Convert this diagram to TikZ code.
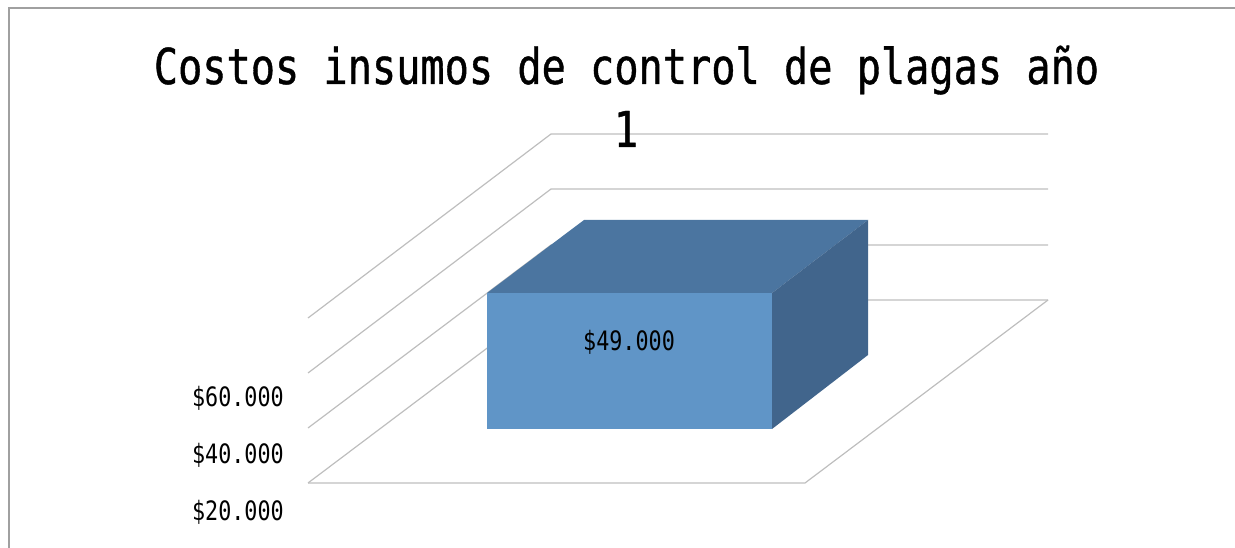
\documentclass[tikz,border=0pt]{standalone}
\usepackage{fontspec}
\newfontfamily\gothic[FakeStretch=0.815]{DejaVu Sans Mono}
\newfontfamily\gothictitle[FakeStretch=0.815,FakeBold=0.8]{DejaVu Sans Mono}
\definecolor{gridc}{RGB}{190,190,190}
\definecolor{framec}{RGB}{160,160,160}
\definecolor{frontc}{RGB}{96,149,199}
\definecolor{topc}{RGB}{75,117,160}
\definecolor{sidec}{RGB}{65,101,140}
\tikzset{
  grid line/.style={draw=gridc, line width=1.2pt},
  frame line/.style={draw=framec, line width=2pt},
  axis label/.style={font=\gothic\fontsize{26.7}{30}\selectfont, inner sep=0pt, anchor=base east},
  title text/.style={font=\gothictitle\fontsize{49.4}{56}\selectfont, inner sep=0pt, anchor=base},
  value label/.style={font=\gothic\fontsize{26.7}{30}\selectfont, inner sep=0pt, anchor=base},
}
\begin{document}
\begin{tikzpicture}[x=1pt, y=-1pt]
\useasboundingbox (0,0) rectangle (1235,548);
% frame
\draw[frame line] (9,548) -- (9,8) -- (1235,8);
% gridlines: left wall diagonals and back wall horizontals
\foreach \yf/\yb in {483/300, 428/245, 373/189, 318/134} {
  \draw[grid line] (308,\yf) -- (551,\yb) -- (1048,\yb);
}
% floor
\draw[grid line] (308,483) -- (805,483) -- (1048,300);
% box
\fill[topc] (487,293) -- (584,220) -- (868,220) -- (772,293) -- cycle;
\fill[sidec] (772,293) -- (868,220) -- (868,355) -- (772,429) -- cycle;
\fill[frontc] (487,293) rectangle (772,429);
% texts
\node[title text] (t1) at (626.5,84) {Costos insumos de control de plagas año};
\node[title text] (t2) at (626,147) {1};
\node[value label] (v) at (629,350) {\$49.000};
\node[axis label] (l60) at (284,406) {\$60.000};
\node[axis label] (l40) at (284,463) {\$40.000};
\node[axis label] (l20) at (284,520) {\$20.000};
\end{tikzpicture}
\end{document}
